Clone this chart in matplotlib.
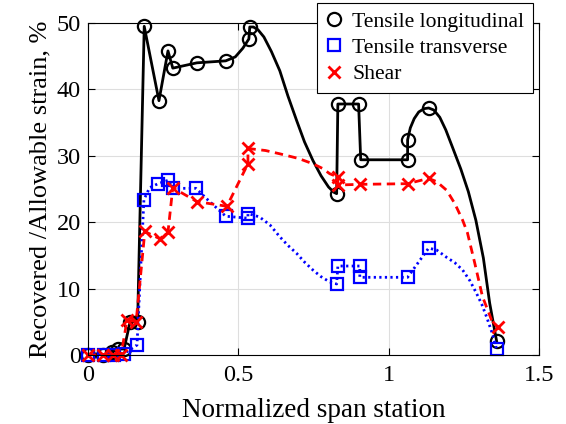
import matplotlib
matplotlib.use('Agg')
import matplotlib.pyplot as plt

plt.rcParams['font.family'] = ['Liberation Serif', 'DejaVu Serif']

# marker points
long_x = [0, 0.05, 0.08, 0.10, 0.12, 0.14, 0.165, 0.187, 0.236, 0.266, 0.282,
          0.362, 0.458, 0.535, 0.538, 0.827, 0.831, 0.90, 0.907, 1.063, 1.063,
          1.133, 1.359]
long_y = [0, 0, 0.4, 0.9, 0.9, 5.0, 5.0, 49.5, 38.3, 45.8, 43.2,
          44.0, 44.3, 47.6, 49.4, 24.3, 37.8, 37.8, 29.4, 29.4, 32.4,
          37.2, 2.1]

trans_x = [0, 0.053, 0.086, 0.12, 0.163, 0.186, 0.233, 0.266, 0.282, 0.359,
           0.458, 0.532, 0.532, 0.827, 0.831, 0.904, 0.904, 1.063, 1.133, 1.359]
trans_y = [0, 0, 0, 0.2, 1.5, 23.4, 25.8, 26.3, 25.1, 25.1,
           20.9, 20.6, 21.3, 10.7, 13.4, 13.4, 11.7, 11.7, 16.1, 0.9]

shear_x = [0, 0.05, 0.083, 0.11, 0.13, 0.16, 0.189, 0.239, 0.266, 0.282,
           0.362, 0.462, 0.532, 0.532, 0.831, 0.831, 0.904, 1.063, 1.133, 1.362]
shear_y = [0, 0, 0, 0, 5.3, 5.0, 18.6, 17.5, 18.5, 25.2,
           23.1, 22.4, 28.8, 31.1, 26.8, 25.6, 25.7, 25.8, 26.6, 4.2]

# line paths (markers plus extra points)
long_lx = [0, 0.05, 0.08, 0.10, 0.12, 0.14, 0.165, 0.187, 0.236, 0.266, 0.282,
           0.362, 0.458, 0.49, 0.515, 0.535, 0.538, 0.55, 0.565, 0.585, 0.61,
           0.638, 0.665, 0.694, 0.72, 0.748, 0.775, 0.80, 0.818, 0.827,
           0.831, 0.90, 0.907, 1.063, 1.063, 1.072, 1.085, 1.10, 1.118, 1.133,
           1.15, 1.17, 1.19, 1.213, 1.24, 1.265, 1.29, 1.315, 1.336, 1.359]
long_ly = [0, 0, 0.4, 0.9, 0.9, 5.0, 5.0, 49.5, 38.3, 45.8, 43.2,
           44.0, 44.3, 44.9, 46.2, 47.6, 49.4, 49.4, 49.0, 47.9, 45.7,
           42.8, 39.0, 35.3, 32.1, 29.3, 27.0, 25.3, 24.5, 24.3,
           37.8, 37.8, 29.4, 29.4, 32.4, 34.2, 35.6, 36.6, 37.1, 37.2,
           36.9, 35.8, 33.9, 31.2, 28.0, 24.6, 20.3, 14.6, 7.8, 2.1]

trans_lx = [0, 0.053, 0.086, 0.12, 0.163, 0.186, 0.205, 0.233, 0.266, 0.282,
            0.359, 0.40, 0.458, 0.532, 0.532, 0.57, 0.605, 0.638, 0.665, 0.694,
            0.72, 0.748, 0.775, 0.804, 0.827, 0.831, 0.904, 0.904, 1.063,
            1.133, 1.16, 1.193, 1.22, 1.246, 1.27, 1.292, 1.31, 1.326, 1.345,
            1.359]
trans_ly = [0, 0, 0, 0.2, 1.5, 23.4, 25.2, 25.8, 26.3, 25.1,
            25.1, 23.3, 20.9, 20.6, 21.3, 20.8, 19.6, 17.8, 16.5, 15.3,
            14.0, 12.8, 11.8, 11.0, 10.7, 13.4, 13.4, 11.7, 11.7,
            16.1, 15.8, 14.7, 13.9, 12.8, 11.2, 9.3, 7.6, 5.7, 3.2,
            0.9]

shear_lx = [0, 0.05, 0.083, 0.11, 0.13, 0.16, 0.189, 0.239, 0.266, 0.282,
            0.362, 0.462, 0.532, 0.532, 0.59, 0.638, 0.70, 0.748, 0.78,
            0.804, 0.831, 0.831, 0.904, 1.063, 1.133, 1.16, 1.193, 1.22,
            1.246, 1.262, 1.286, 1.312, 1.342, 1.362]
shear_ly = [0, 0, 0, 0, 5.3, 5.0, 18.6, 17.5, 18.5, 25.2,
            23.1, 22.4, 28.8, 31.1, 30.8, 30.3, 29.6, 28.8, 28.1,
            27.3, 26.8, 25.6, 25.7, 25.8, 26.6, 26.1, 24.8, 22.8,
            20.3, 18.4, 13.9, 8.8, 5.3, 4.2]

labels = ['Tensile longitudinal', 'Tensile transverse', 'Shear']

fig = plt.figure(figsize=(5.66, 4.24), dpi=100)
ax = fig.add_axes([88/566, 1 - 355/424, (539 - 88)/566, (355 - 23)/424])

ax.plot(long_lx, long_ly, '-', color='k', lw=2)
h1, = ax.plot(long_x, long_y, 'o', color='k', mfc='none', ms=9.5, mew=1.6,
              clip_on=False, label=labels[0])
ax.plot(trans_lx, trans_ly, color='b', lw=2, linestyle=(0, (0.8, 1.2)))
h2, = ax.plot(trans_x, trans_y, 's', color='b', mfc='none', ms=8, mew=1.6,
              clip_on=False, label=labels[1])
ax.plot(shear_lx, shear_ly, color='r', lw=2, linestyle=(0, (3, 2)))
h3, = ax.plot(shear_x, shear_y, 'x', color='r', ms=8.5, mew=2,
              clip_on=False, label=labels[2])

ax.set_xlim(0, 1.5)
ax.set_ylim(0, 50)
ax.set_xticks([0, 0.5, 1, 1.5])
ax.set_xticklabels(['0', '0.5', '1', '1.5'])
ax.set_yticks([0, 10, 20, 30, 40, 50])
ax.tick_params(direction='in', top=True, right=True, length=5, width=0.8,
               labelsize=17.5)
ax.tick_params(axis='x', pad=7)
ax.tick_params(axis='y', pad=5)
ax.grid(True, color='#dedede', lw=0.8)
ax.set_axisbelow(True)
for s in ax.spines.values():
    s.set_linewidth(0.8)

ax.set_xlabel('Normalized span station', fontsize=19.5, labelpad=9)
ax.set_ylabel('Recovered /Allowable strain, %', fontsize=19, labelpad=4)

leg = fig.legend(handles=[h1, h2, h3], loc='upper right',
                 bbox_to_anchor=(533/566, 1 - 3/424), fontsize=15.6,
                 fancybox=False, framealpha=1, edgecolor='k',
                 handlelength=0.8, handletextpad=0.45, borderpad=0.4,
                 labelspacing=0.28, borderaxespad=0)
leg.get_frame().set_linewidth(0.8)

fig.savefig('out.png', dpi=100)
